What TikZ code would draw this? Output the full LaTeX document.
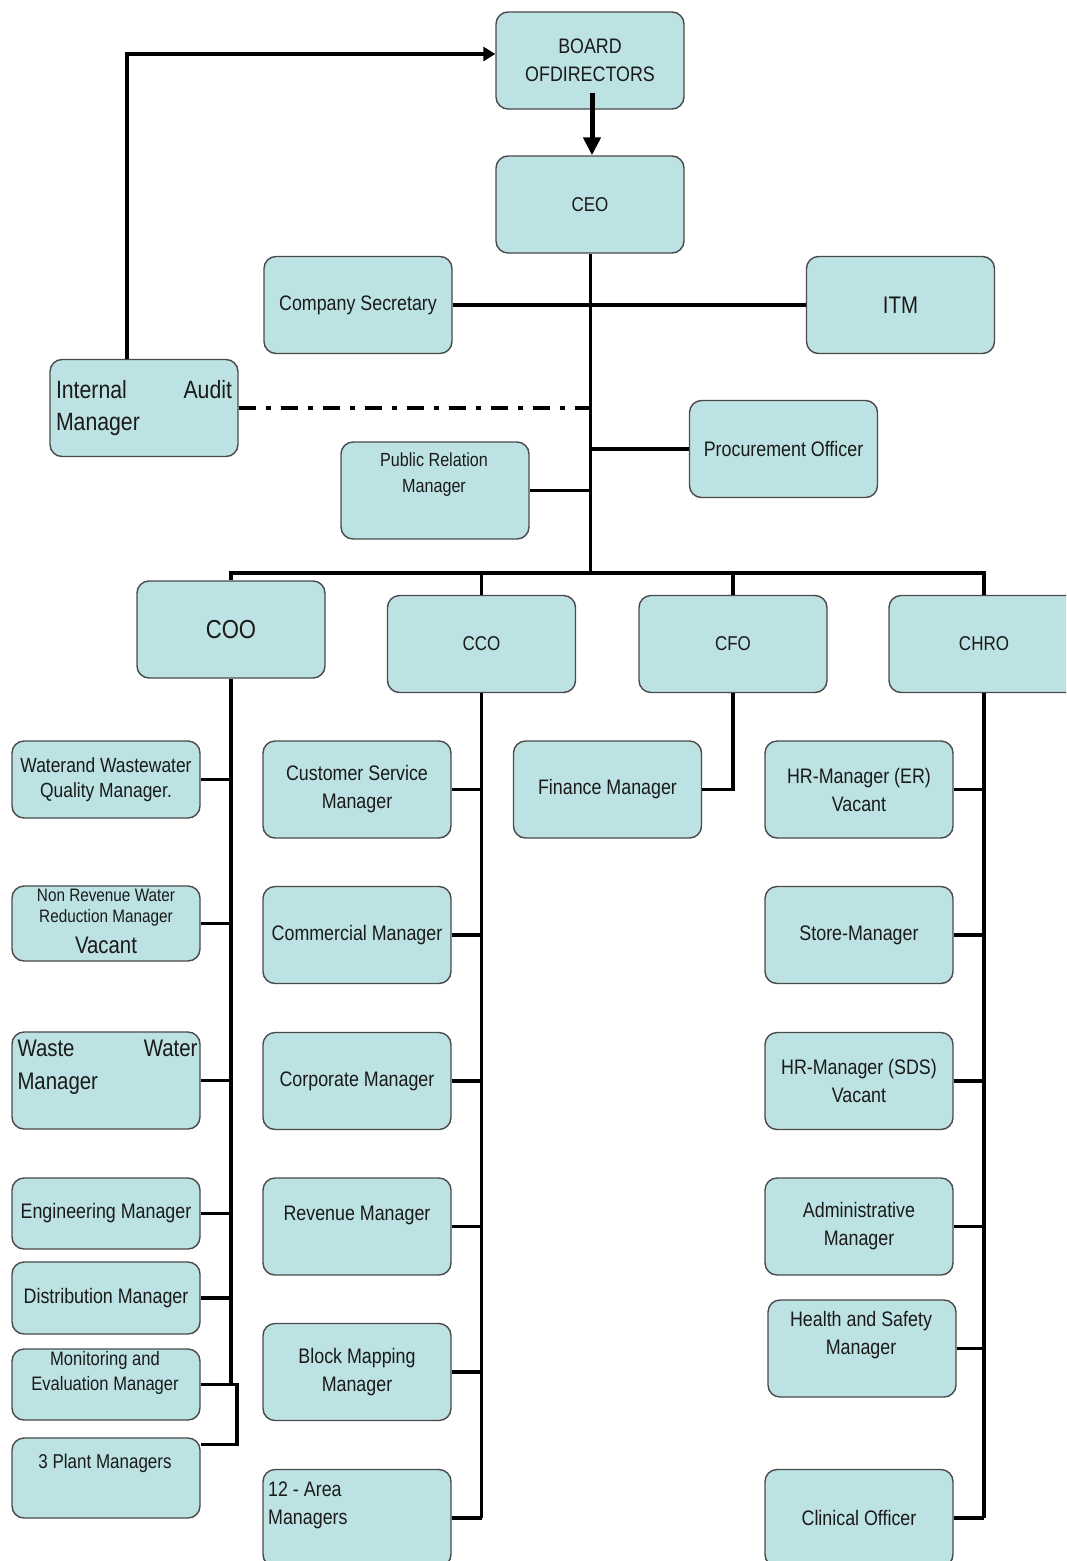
\documentclass[tikz,border=0pt]{standalone}
\usepackage{fontspec}
\setmainfont[FakeStretch=0.85]{Liberation Sans}
\usetikzlibrary{arrows.meta}
\definecolor{boxfill}{HTML}{BDE2E4}
\definecolor{boxline}{HTML}{4A4A4A}
\definecolor{textc}{HTML}{1A1A1A}
\begin{document}
\begin{tikzpicture}[x=1pt,y=-1pt,
  box/.style={draw=boxline,fill=boxfill,line width=1.4pt,rounded corners=12pt,
    minimum width=188pt,minimum height=97pt,inner sep=0pt,align=center,
    font=\fontsize{21}{28}\selectfont,text=textc},
  txt/.style={inner sep=0pt,align=center,font=\fontsize{21}{28}\selectfont,text=textc},
  conn/.style={line width=3.5pt,black},
]
\useasboundingbox (0,0) rectangle (1066,1561);
\clip (0,0) rectangle (1066,1561);

% top level
\node[box] (board) at (590,60.5) {BOARD\\OFDIRECTORS};
\node[box,font=\fontsize{20}{26}\selectfont] (ceo) at (590,204.5) {CEO};
\node[box] (cs) at (358,305) {Company Secretary};
\node[box,font=\fontsize{24}{28}\selectfont] (itm) at (900.5,305) {ITM};
\node[box,text width=176pt,align=left,font=\fontsize{25}{32}\selectfont] (ia) at (144,408)
  {\hbox to 176pt{Internal\hfill Audit}\\Manager};
\node[box] (proc) at (783.5,449) {Procurement Officer};
\node[box] (pr) at (435,490.5) {};
\node[txt,font=\fontsize{19}{26}\selectfont] (prt) at (434,475) {Public Relation\\Manager};

% chiefs
\node[box,font=\fontsize{26}{30}\selectfont] (coo) at (231,629.5) {COO};
\node[box,font=\fontsize{20}{26}\selectfont] (cco) at (481.5,644) {CCO};
\node[box,font=\fontsize{20}{26}\selectfont] (cfo) at (733,644) {CFO};
\node[box,minimum width=190pt,font=\fontsize{20}{26}\selectfont] (chro) at (984,644) {CHRO};

% COO children
\node[box,minimum height=77pt,font=\fontsize{20.5}{25}\selectfont] (wq) at (106,779.5) {Waterand Wastewater\\Quality Manager.};
\node[box,minimum height=75pt] (nrw) at (106,923.5) {};
\node[txt,font=\fontsize{18}{21}\selectfont] (nrwt) at (106,907.5) {Non Revenue Water\\Reduction Manager};
\node[txt,font=\fontsize{24}{28}\selectfont] (nrwv) at (106,945) {Vacant};
\node[box] (ww) at (106,1080.5) {};
\node[txt,text width=180pt,align=left,font=\fontsize{24}{33}\selectfont] (wwt) at (107.5,1067.5)
  {\hbox to 180pt{Waste\hfill Water}\\Manager};
\node[box,minimum height=71pt] (eng) at (106,1213.5) {Engineering Manager};
\node[box,minimum height=72pt] (dist) at (106,1298) {Distribution Manager};
\node[box,minimum height=71pt] (mon) at (106,1384.5) {};
\node[txt,font=\fontsize{19.5}{25}\selectfont] (mont) at (105,1372.5) {Monitoring and\\Evaluation Manager};
\node[box,minimum height=80pt] (plant) at (106,1478) {};
\node[txt,font=\fontsize{20}{24}\selectfont] (plantt) at (105,1463) {3 Plant Managers};

% CCO children
\node[box] (cust) at (357,789.5) {Customer Service\\Manager};
\node[box] (comm) at (357,935) {Commercial Manager};
\node[box] (corp) at (357,1081) {Corporate Manager};
\node[box] (rev) at (357,1226.5) {};
\node[txt] (revt) at (357,1215) {Revenue Manager};
\node[box] (block) at (357,1372) {Block Mapping\\Manager};
\node[box] (area) at (357,1518) {};
\node[txt,align=left,anchor=west] (areat) at (268,1505.5) {12 - Area\\Managers};

% CFO child
\node[box] (fin) at (607.5,789.5) {Finance Manager};

% CHRO children
\node[box] (hrer) at (859,789.5) {HR-Manager (ER)\\Vacant};
\node[box] (store) at (859,935) {Store-Manager};
\node[box] (sds) at (859,1081) {HR-Manager (SDS)\\Vacant};
\node[box] (adm) at (859,1226.5) {Administrative\\Manager};
\node[box] (hs) at (862,1348.5) {};
\node[txt] (hst) at (861,1335.5) {Health and Safety\\Manager};
\node[box] (clin) at (859,1518) {Clinical Officer};

% connectors
\coordinate (bus) at (590,573);
\draw[conn,-{Triangle[length=12pt,width=14pt]}] ([xshift=-17pt]ia.north) |- ([yshift=6.5pt]board.west);
\draw[line width=5pt,-{Triangle[length=18pt,width=17pt]}] ([shift={(2pt,17pt)}]board.south) -- ([xshift=2pt]ceo.north);
\draw[line width=3pt] (ceo.south) -- (bus);
\draw[conn] (cs.east) -- (itm.west);
\draw[conn,dash pattern=on 17pt off 10pt on 5pt off 10pt] (ia.east) -- (ia.east -| ceo.south);
\draw[conn] (proc.west) -- (proc.west -| ceo.south);
\draw[conn] (pr.east) -- (pr.east -| ceo.south);
\draw[conn] (coo.north) |- (bus) -| (chro.north);
\draw[conn] (cco.north) -- (cco.north |- bus);
\draw[conn] (cfo.north) -- (cfo.north |- bus);

\draw[conn] (coo.south) -- (coo.south |- mon.east);
\foreach \n in {wq,nrw,ww,eng,dist,mon} \draw[conn] (\n.east) -- (\n.east -| coo.south);
\path (mon.east -| coo.south) ++(6,0) coordinate (brk);
\draw[conn] (mon.east) -- (brk) |- ([yshift=-7pt]plant.north east);

\draw[conn] (cco.south) -- (cco.south |- area.east);
\foreach \n in {cust,comm,corp,rev,block,area} \draw[conn] (\n.east) -- (\n.east -| cco.south);

\draw[conn] (cfo.south) |- (fin.east);

\draw[conn] (chro.south) -- (chro.south |- clin.east);
\foreach \n in {hrer,store,sds,adm,hs,clin} \draw[conn] (\n.east) -- (\n.east -| chro.south);
\end{tikzpicture}
\end{document}
